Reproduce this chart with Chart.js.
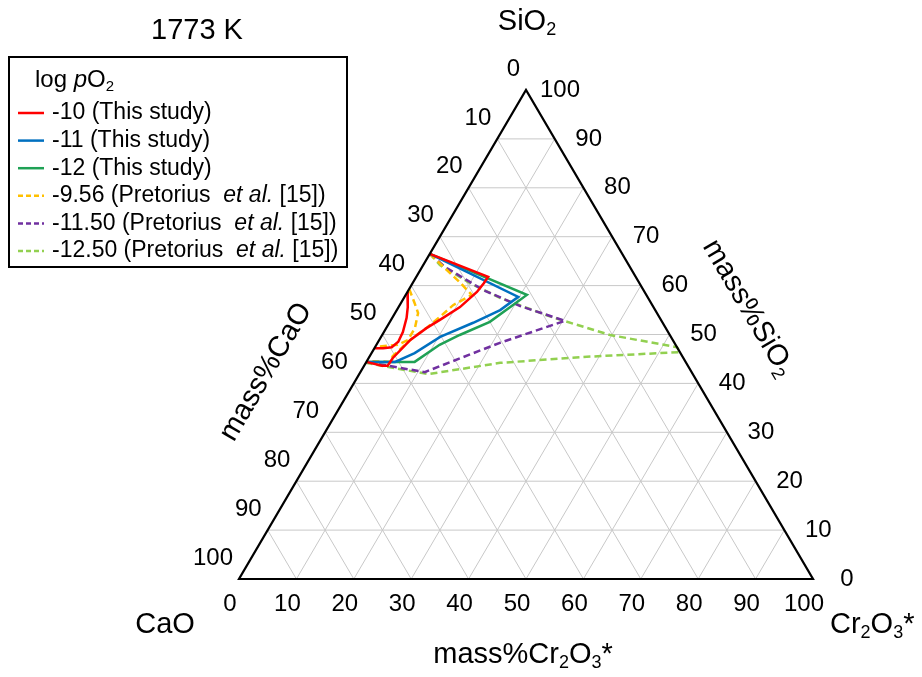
<!DOCTYPE html>
<html>
<head>
<meta charset="utf-8">
<script src="https://cdn.jsdelivr.net/npm/chart.js@4.4.0/dist/chart.umd.min.js"></script>
<style>
  html, body { margin: 0; padding: 0; background: #fff; }
  #wrap { width: 922px; height: 677px; }
</style>
</head>
<body>
<div id="wrap"><canvas id="graph" width="922" height="677"></canvas></div>
<script>
// liquid boundaries at 1773 K, points as [mass% Cr2O3*, mass% SiO2] (CaO = rest)
var po2_m10 = [[0,66.5],[12.5,61.8],[12.4,60.5],[12.1,58.7],[10.7,55.6],[8.5,53.0],[7.0,51.3],[5.4,48.9],[4.2,45.2],[4.1,43.6],[3.1,43.6],[0,44.4]];
var po2_m10_arc = [[0,58.7],[1.6,55.6],[2.5,53.4],[3.3,50.5],[3.5,48.5],[2.9,47.4],[1.5,47.2],[0,47.2]];
var po2_m11 = [[0,66.5],[19.8,57.7],[18.0,55.0],[14.6,52.4],[10.3,49.5],[7.5,46.2],[5.0,44.4],[0,44.4]];
var po2_m12 = [[0,66.5],[21.1,58.1],[20.1,56.6],[17.4,52.6],[13.5,49.9],[11.0,47.9],[8.4,44.4],[0,44.4]];
var pret_956 = [[0,66.5],[8.1,60.7],[11.5,58.1],[9.3,56.0],[8.2,53.6],[7.1,51.5],[5.5,49.1],[4.0,45.6],[4.1,44.4],[0,44.6]];
var pret_956_arc = [[0,59.3],[2.4,56.4],[4.0,54.4],[5.0,51.3],[5.0,48.9],[3.7,47.9],[1.1,47.6],[0,47.4]];
var pret_1150 = [[0,66.5],[4.0,63.8],[13.0,59.1],[21.1,55.8],[30.4,52.8],[21.3,48.3],[11.2,42.3],[0,44.4]];
var pret_1250 = [[0,66.5],[2.9,64.2],[10.0,60.5],[16.7,57.5],[27.6,53.6],[39.7,49.9],[52.6,47.4],[53.6,46.4],[37.2,45.4],[23.4,44.2],[12.0,41.9],[0,44.2]];

var ticks = [0,10,20,30,40,50,60,70,80,90,100];
var legendLabels = ["-10 (This study)", "-11 (This study)", "-12 (This study)",
  "-9.56 (Pretorius  ", "-11.50 (Pretorius  ", "-12.50 (Pretorius  "];
var legendColors = ["#ff0000", "#0070c0", "#1fa155", "#ffc000", "#7030a0", "#92d050"];
var legendDashed = [false, false, false, true, true, true];

var FONT = '"Liberation Sans", Arial, sans-serif';

// ternary -> cartesian on a 0..100 plane
function tern(p) { return { x: p[0] + p[1] / 2, y: p[1] }; }
function toXY(arr) { return arr.map(tern); }

function line(data, color, dashed) {
  return {
    data: toXY(data),
    showLine: true,
    borderColor: color,
    borderWidth: 2.5,
    borderDash: dashed ? [7, 4] : [],
    pointRadius: 0,
    tension: 0,
    fill: false
  };
}

// draw text made of pieces with optional subscript / italic
function richText(ctx, parts, x, y, size, align) {
  var w = 0;
  parts.forEach(function (p) {
    ctx.font = (p.it ? 'italic ' : '') + Math.round(p.sub ? size * 0.62 : size) + 'px ' + FONT;
    p.w = ctx.measureText(p.t).width;
    w += p.w;
  });
  var cx = align === 'center' ? x - w / 2 : (align === 'right' ? x - w : x);
  ctx.textAlign = 'left';
  ctx.textBaseline = 'middle';
  parts.forEach(function (p) {
    ctx.font = (p.it ? 'italic ' : '') + Math.round(p.sub ? size * 0.62 : size) + 'px ' + FONT;
    ctx.fillText(p.t, cx, p.sub ? y + size * 0.28 : y);
    cx += p.w;
  });
}

var ternaryFrame = {
  id: 'ternaryFrame',
  beforeDatasetsDraw: function (chart) {
    var ctx = chart.ctx, xs = chart.scales.x, ys = chart.scales.y;
    function P(c, s) { var q = tern([c, s]); return [xs.getPixelForValue(q.x), ys.getPixelForValue(q.y)]; }
    ctx.save();
    ctx.strokeStyle = '#c8c8c8';
    ctx.lineWidth = 1;
    for (var k = 10; k < 100; k += 10) {
      var seg = [
        [P(0, k), P(100 - k, k)],       // SiO2 const
        [P(0, 100 - k), P(100 - k, 0)], // CaO const
        [P(k, 0), P(k, 100 - k)]        // Cr2O3 const
      ];
      seg.forEach(function (s) {
        ctx.beginPath(); ctx.moveTo(s[0][0], s[0][1]); ctx.lineTo(s[1][0], s[1][1]); ctx.stroke();
      });
    }
    ctx.restore();
  },
  afterDatasetsDraw: function (chart) {
    var ctx = chart.ctx, xs = chart.scales.x, ys = chart.scales.y;
    function P(c, s) { var q = tern([c, s]); return [xs.getPixelForValue(q.x), ys.getPixelForValue(q.y)]; }
    var A = P(0, 0), B = P(100, 0), T = P(0, 100);
    ctx.save();
    ctx.strokeStyle = '#000';
    ctx.lineWidth = 2.2;
    ctx.lineJoin = 'miter';
    ctx.beginPath(); ctx.moveTo(A[0], A[1]); ctx.lineTo(B[0], B[1]); ctx.lineTo(T[0], T[1]); ctx.closePath(); ctx.stroke();

    ctx.fillStyle = '#000';
    ctx.font = '24px ' + FONT;
    ctx.textBaseline = 'middle';
    ticks.forEach(function (t) {
      var l = P(0, 100 - t);
      ctx.textAlign = 'right';
      ctx.fillText(String(t), l[0] - 6, l[1] - 21);
      var r = P(100 - t, t);
      ctx.textAlign = 'center';
      ctx.fillText(String(t), r[0] + 34, r[1]);
      var b = P(t, 0);
      ctx.fillText(String(t), b[0] - 9, b[1] + 25);
    });

    // corner and axis titles
    ctx.fillStyle = '#000';
    richText(ctx, [{ t: '1773 K' }], 197, 31, 29, 'center');
    richText(ctx, [{ t: 'SiO' }, { t: '2', sub: true }], 527, 22, 29, 'center');
    richText(ctx, [{ t: 'CaO' }], 165, 625, 29, 'center');
    richText(ctx, [{ t: 'Cr' }, { t: '2', sub: true }, { t: 'O' }, { t: '3', sub: true }, { t: '*' }], 830, 625, 29, 'left');
    richText(ctx, [{ t: 'mass%Cr' }, { t: '2', sub: true }, { t: 'O' }, { t: '3', sub: true }, { t: '*' }], 523, 655, 29, 'center');

    var angL = Math.atan2(T[1] - A[1], T[0] - A[0]);
    ctx.save();
    ctx.translate(266, 372);
    ctx.rotate(angL);
    richText(ctx, [{ t: 'mass%CaO' }], 0, 0, 29, 'center');
    ctx.restore();

    var angR = Math.atan2(B[1] - T[1], B[0] - T[0]);
    ctx.save();
    ctx.translate(748, 308);
    ctx.rotate(angR);
    richText(ctx, [{ t: 'mass%SiO' }, { t: '2', sub: true }], 0, 0, 29, 'center');
    ctx.restore();

    // legend box
    ctx.lineWidth = 2;
    ctx.strokeRect(9, 57, 338, 210);
    richText(ctx, [{ t: 'log ' }, { t: 'p', it: true }, { t: 'O' }, { t: '2', sub: true }], 35, 80, 24, 'left');
    legendLabels.forEach(function (lab, i) {
      var y = 113 + i * 27.6;
      ctx.strokeStyle = legendColors[i];
      ctx.lineWidth = 2.5;
      ctx.setLineDash(legendDashed[i] ? [5, 3] : []);
      ctx.beginPath(); ctx.moveTo(18, y); ctx.lineTo(44, y); ctx.stroke();
      ctx.setLineDash([]);
      var parts = [{ t: lab }];
      if (i >= 3) parts.push({ t: 'et al.', it: true }, { t: ' [15])' });
      richText(ctx, parts, 52, y, 23, 'left');
    });
    ctx.restore();
  }
};

var chart = new Chart(document.getElementById('graph').getContext('2d'), {
  type: 'scatter',
  data: {
    datasets: [
      line(po2_m10, legendColors[0], false),
      line(po2_m10_arc, legendColors[0], false),
      line(po2_m11, legendColors[1], false),
      line(po2_m12, legendColors[2], false),
      line(pret_956, legendColors[3], true),
      line(pret_956_arc, legendColors[3], true),
      line(pret_1150, legendColors[4], true),
      line(pret_1250, legendColors[5], true)
    ]
  },
  options: {
    responsive: false,
    animation: false,
    layout: { padding: { left: 239, right: 109, top: 90, bottom: 98 } },
    plugins: { legend: { display: false }, tooltip: { enabled: false } },
    scales: {
      x: { type: 'linear', min: 0, max: 100, display: false },
      y: { type: 'linear', min: 0, max: 100, display: false }
    }
  },
  plugins: [ternaryFrame]
});
</script>
</body>
</html>
